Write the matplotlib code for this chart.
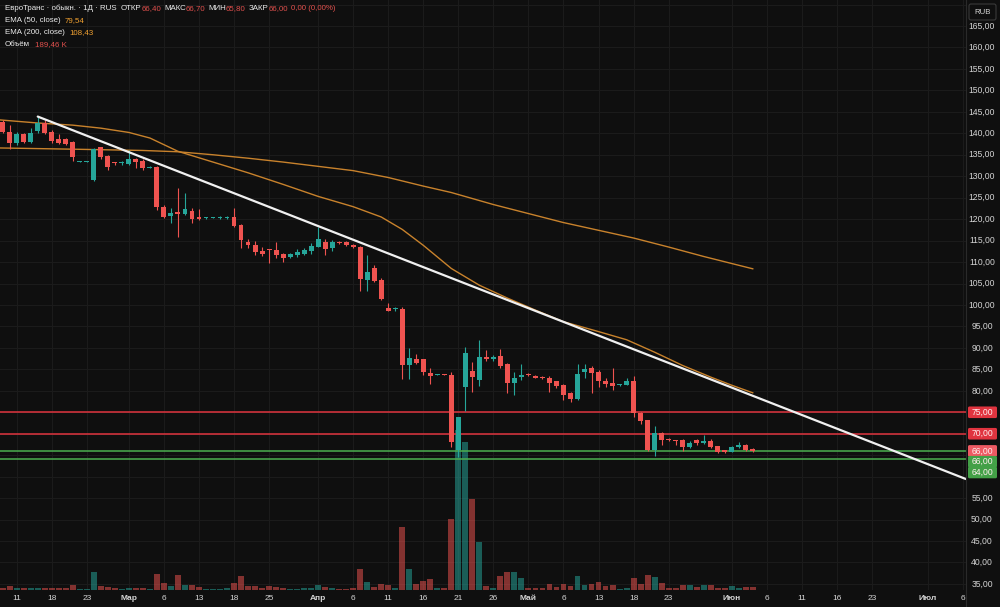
import matplotlib
matplotlib.use('Agg')
import matplotlib.pyplot as plt
import matplotlib.transforms as mtransforms
from matplotlib.patches import FancyBboxPatch
from matplotlib.lines import Line2D

plt.rcParams['font.family'] = ['Liberation Sans', 'DejaVu Sans']

# ---- данные (дневные свечи, индекс бара) ----
opens = [142.7, 140.4, 137.7, 139.8, 138.0, 140.6, 142.3, 140.4, 138.6, 138.6,
         137.9, 133.4, 133.4, 129.1, 136.7, 134.8, 133.1, 133.0, 132.85, 134.0,
         133.6, 132.0, 132.1, 122.9, 120.7, 121.5, 121.2, 122.0, 120.4, 120.2,
         120.3, 120.3, 120.3, 120.4, 118.6, 114.7, 114.0, 112.6, 112.8, 112.8,
         111.8, 111.1, 111.6, 111.8, 112.6, 113.6, 114.7, 113.2, 114.5, 114.6,
         114.0, 113.6, 105.8, 108.6, 105.8, 99.3, 99.0, 99.0, 86.0, 87.3,
         87.3, 84.2, 83.7, 83.8, 83.7, 66.2, 81.0, 84.7, 82.5, 87.8,
         87.3, 88.0, 86.2, 81.8, 83.3, 84.0, 83.5, 83.3, 83.1, 82.2,
         81.4, 79.4, 78.0, 84.5, 85.3, 84.5, 82.4, 81.8, 81.3, 81.4,
         82.2, 74.9, 73.1, 66.2, 70.2, 68.6, 68.5, 68.5, 66.8, 68.5,
         67.8, 68.4, 67.1, 66.2, 65.8, 66.8, 67.4, 66.4]
highs = [143.1, 141.9, 140.4, 140.1, 141.2, 143.9, 143.1, 140.8, 139.8, 138.9,
         138.2, 133.6, 133.6, 136.6, 136.9, 135.0, 133.4, 133.5, 136.1, 134.3,
         133.9, 132.4, 132.4, 123.2, 122.5, 127.2, 126.0, 122.5, 122.3, 120.5,
         120.6, 120.8, 120.8, 122.7, 118.8, 115.4, 115.0, 113.5, 113.0, 114.7,
         112.0, 112.0, 113.0, 113.2, 114.4, 118.1, 115.4, 115.2, 114.9, 114.8,
         114.2, 113.8, 111.6, 109.2, 106.2, 100.4, 99.5, 99.5, 89.9, 88.6,
         87.4, 85.4, 84.0, 83.9, 84.5, 74.0, 90.1, 86.8, 91.8, 89.4,
         88.3, 89.7, 86.5, 84.5, 86.2, 84.2, 83.7, 83.4, 83.5, 82.4,
         81.7, 79.7, 86.2, 86.3, 85.8, 84.8, 82.9, 85.4, 81.6, 82.9,
         83.5, 75.0, 73.2, 71.8, 70.3, 68.9, 68.6, 68.8, 68.3, 68.8,
         69.7, 68.7, 67.2, 66.3, 67.1, 68.1, 67.6, 66.7]
lows = [140.0, 136.3, 137.3, 137.8, 137.7, 140.0, 139.8, 137.7, 137.5, 137.2,
        133.6, 133.2, 133.3, 129.0, 134.0, 131.45, 132.6, 132.6, 132.7, 131.85,
        131.5, 131.9, 122.1, 120.3, 119.0, 115.9, 121.0, 119.0, 119.8, 120.0,
        120.2, 120.0, 120.0, 118.2, 113.2, 113.2, 111.7, 111.5, 109.7, 111.0,
        109.9, 110.9, 111.2, 111.6, 111.8, 113.5, 111.6, 112.6, 114.2, 113.8,
        113.3, 103.3, 103.3, 105.4, 101.2, 98.5, 98.7, 82.8, 82.8, 86.2,
        83.7, 81.7, 83.6, 83.6, 67.0, 64.5, 75.4, 79.8, 81.1, 87.0,
        87.0, 85.3, 79.4, 79.0, 82.6, 83.4, 83.0, 82.8, 79.8, 80.7,
        77.9, 77.5, 77.8, 82.9, 79.6, 81.0, 81.0, 80.2, 81.2, 81.3,
        74.0, 72.3, 66.0, 64.7, 67.4, 68.4, 67.4, 66.0, 66.6, 67.4,
        67.6, 66.6, 65.6, 65.5, 65.7, 66.6, 66.0, 65.8]
closes = [140.4, 137.7, 139.8, 138.05, 140.0, 142.3, 140.1, 138.3, 137.8, 137.4,
          134.4, 133.45, 133.5, 136.3, 134.4, 132.2, 133.0, 133.1, 134.0, 133.4,
          131.85, 132.1, 122.8, 120.6, 121.5, 121.3, 122.3, 120.0, 120.0, 120.3,
          120.4, 120.4, 120.4, 118.4, 115.1, 113.9, 112.4, 111.9, 112.75, 111.6,
          111.0, 111.8, 112.3, 112.8, 113.7, 115.3, 113.0, 114.7, 114.4, 113.9,
          113.4, 106.0, 107.8, 105.6, 101.4, 98.7, 99.2, 86.0, 87.6, 86.5,
          84.5, 83.4, 83.8, 83.7, 68.1, 73.8, 88.7, 83.3, 87.8, 87.3,
          87.8, 85.8, 81.8, 83.1, 83.7, 83.6, 83.1, 82.9, 81.9, 81.2,
          79.0, 78.0, 84.0, 85.1, 84.2, 82.4, 81.5, 81.2, 81.4, 82.2,
          74.8, 72.9, 66.2, 70.2, 68.5, 68.5, 68.4, 66.8, 67.9, 67.8,
          68.4, 66.8, 65.8, 65.7, 66.8, 67.4, 66.2, 66.0]
# объём, тыс.
volumes = [150, 260, 150, 130, 110, 150, 110, 150, 110, 110,
           305, 85, 45, 1170, 240, 195, 110, 65, 150, 150,
           110, 85, 1020, 455, 260, 975, 325, 305, 195, 65,
           65, 65, 110, 455, 890, 240, 240, 150, 240, 195,
           150, 85, 85, 110, 110, 325, 195, 150, 65, 65,
           110, 1345, 520, 195, 410, 325, 110, 4095, 1345, 410,
           585, 695, 110, 110, 4615, 10400, 9620, 5895, 3120, 260,
           150, 910, 1190, 1190, 800, 110, 110, 110, 370, 195,
           410, 240, 910, 325, 410, 520, 260, 305, 65, 110,
           800, 410, 955, 845, 475, 110, 110, 305, 305, 195,
           305, 345, 110, 110, 260, 150, 195, 189.46]

ema50_idx = [-1, 5, 10, 14, 18, 21, 25, 30, 35, 40, 45, 50, 54, 57, 60, 64,
             68, 72, 76, 80, 85, 89, 93, 97, 101, 104, 107]
ema50_val = [143.2, 142.4, 141.9, 141.2, 140.2, 138.9, 135.8, 133.3, 130.8,
             128.1, 125.3, 122.9, 120.5, 117.6, 113.9, 108.5, 104.6, 101.6,
             98.8, 96.1, 93.8, 91.9, 89.0, 85.9, 83.2, 81.3, 79.54]
ema200_idx = [-1, 10, 20, 25, 30, 35, 40, 45, 50, 55, 60, 64, 70, 75, 80, 85,
              90, 95, 100, 107]
ema200_val = [136.6, 136.3, 136.0, 135.7, 135.0, 134.2, 133.3, 132.3, 131.3,
              129.7, 127.7, 126.2, 123.4, 121.3, 119.2, 117.4, 115.6, 113.5,
              111.3, 108.43]

trend_idx = [5, 137.4]
trend_val = [143.9, 59.45]

levels_red = [75, 70]
levels_green = [66, 64]
last_price = 66.0

tick_idx = [2, 7, 12, 18, 23, 28, 33, 38, 45, 50, 55, 60, 65, 70, 75, 80, 85,
            90, 95, 104, 109, 114, 119, 124, 132, 137]
tick_lbl = ['11', '18', '23', 'Мар', '6', '13', '18', '25', 'Апр', '6', '11',
            '16', '21', '26', 'Май', '6', '13', '18', '23', 'Июн', '6', '11',
            '16', '23', 'Июл', '6']
months = {'Мар', 'Апр', 'Май', 'Июн', 'Июл'}
price_ticks = list(range(35, 170, 5))

# ---- оформление ----
BG = '#0f0f0f'
UP = '#26a69a'
DN = '#ef5350'
GRID = '#1b1b1b'
TXT = '#d4d4d4'
EMA_C = '#c8822c'
W, H = 1000, 607

fig = plt.figure(figsize=(W / 100, H / 100), dpi=100, facecolor=BG)
rect = [0, 17 / H, 966 / W, 590 / H]
axv = fig.add_axes(rect)
ax = fig.add_axes(rect, sharex=axv)
axv.set_facecolor(BG)
ax.patch.set_visible(False)

ax.set_xlim(-0.385, 137.42)
ax.set_ylim(33.59, 171.06)
axv.set_ylim(0, 590 * 65)

for a in (ax, axv):
    for s in a.spines.values():
        s.set_visible(False)
    a.tick_params(left=False, right=False, labelleft=False, labelright=False,
                  bottom=False, labelbottom=False)

# сетка
grid_tr = mtransforms.blended_transform_factory(axv.transAxes, ax.transData)
for p in price_ticks + [170]:
    axv.plot([0, 1], [p, p], transform=grid_tr, color=GRID, lw=0.8, zorder=0)
for t in tick_idx:
    axv.axvline(t, color=GRID, lw=0.8, zorder=0)

# объём
vcol = [UP if c >= o else DN for o, c in zip(opens, closes)]
idx = list(range(len(opens)))
axv.bar(idx, volumes, width=0.84, color=vcol, alpha=0.52, zorder=1)

# уровни
for lv in levels_red:
    ax.axhline(lv, color='#e0343f', lw=1.1, zorder=2)
for lv in levels_green:
    ax.axhline(lv, color='#4caf50', lw=1.1, zorder=2)

# EMA
ax.plot(ema50_idx, ema50_val, color=EMA_C, lw=1.0, zorder=3)
ax.plot(ema200_idx, ema200_val, color=EMA_C, lw=1.0, zorder=3)

# свечи
ax.vlines(idx, lows, highs, colors=vcol, lw=0.8, zorder=4)
bottoms = [min(o, c) for o, c in zip(opens, closes)]
heights = [max(abs(c - o), 0.25) for o, c in zip(opens, closes)]
ax.bar(idx, heights, bottom=bottoms, width=0.7, color=vcol, zorder=5)

# трендовая линия
ax.plot(trend_idx, trend_val, color='#f0f0f0', lw=1.6, zorder=6,
        solid_capstyle='round')

# ось времени
time_tr = mtransforms.blended_transform_factory(ax.transData, fig.transFigure)
for t, s in zip(tick_idx, tick_lbl):
    ax.text(t, 1 - 598 / H, s, transform=time_tr, ha='center', va='center',
            color=TXT, fontsize=6.0, clip_on=False,
            fontweight='bold' if s in months else 'normal')

# разделитель шкалы цен
fig.add_artist(Line2D([966 / W, 966 / W], [0, 1], transform=fig.transFigure,
                      color='#2a2a2a', lw=0.8))

# шкала цен
lab_tr = mtransforms.blended_transform_factory(fig.transFigure, ax.transData)
hidden = set(levels_red) | {65, 60}
for p in price_ticks:
    if p in hidden:
        continue
    ax.text(982 / W, p, f'{p},00', transform=lab_tr, ha='center', va='center',
            color=TXT, fontsize=6.2, clip_on=False)

# плашки уровней
fig.canvas.draw()
boxes = [(75, '#e0343f'), (70, '#e0343f'), (last_price, '#ee5a63'),
         (66, '#43a047'), (64, '#43a047')]
prev = None
for p, col in boxes:
    y = ax.transData.transform((0, p))[1]
    if prev is not None and prev - y < 10.8:
        y = prev - 10.8
    prev = y
    fig.add_artist(FancyBboxPatch((968, y - 5.8), 29, 11.6,
                                  boxstyle='round,pad=0,rounding_size=1.5',
                                  transform=mtransforms.IdentityTransform(),
                                  facecolor=col, edgecolor='none'))
    fig.text(982.5 / W, y / H, f'{p:.2f}'.replace('.', ','), ha='center',
             va='center', color='#fff0f0', fontsize=6.2)

# RUB
fig.add_artist(FancyBboxPatch((969, 607 - 20), 27, 16,
                              boxstyle='round,pad=0,rounding_size=2',
                              transform=mtransforms.IdentityTransform(),
                              facecolor='none', edgecolor='#3a3a3a', lw=0.8))
fig.text(982.5 / W, 1 - 12 / H, 'RUB', ha='center', va='center', color=TXT,
         fontsize=5.6)

# легенда
RED_T = '#e0504d'
ORG_T = '#f0a030'
WHITE = '#ececec'
rend = fig.canvas.get_renderer()


def line_text(x, y, parts, size=5.7):
    for s, c, gap in parts:
        t = fig.text(x / W, 1 - y / H, s, color=c, fontsize=size,
                     ha='left', va='center')
        x += t.get_window_extent(renderer=rend).width + gap


line_text(5, 8.5, [('ЕвроТранс · обыкн. · 1Д · RUS', WHITE, 4),
                   ('ОТКР', WHITE, 0), ('66,40', RED_T, 3),
                   ('МАКС', WHITE, 0), ('66,70', RED_T, 3),
                   ('МИН', WHITE, 0), ('65,80', RED_T, 3),
                   ('ЗАКР', WHITE, 0), ('66,00', RED_T, 3),
                   ('0,00 (0,00%)', RED_T, 0)])
line_text(5, 20.5, [('EMA (50, close)', WHITE, 4), ('79,54', ORG_T, 0)])
line_text(5, 32.5, [('EMA (200, close)', WHITE, 4), ('108,43', ORG_T, 0)])
line_text(5, 44.5, [('Объём', WHITE, 5), ('189,46 K', RED_T, 0)])

fig.savefig('out.png', dpi=100, facecolor=BG)
